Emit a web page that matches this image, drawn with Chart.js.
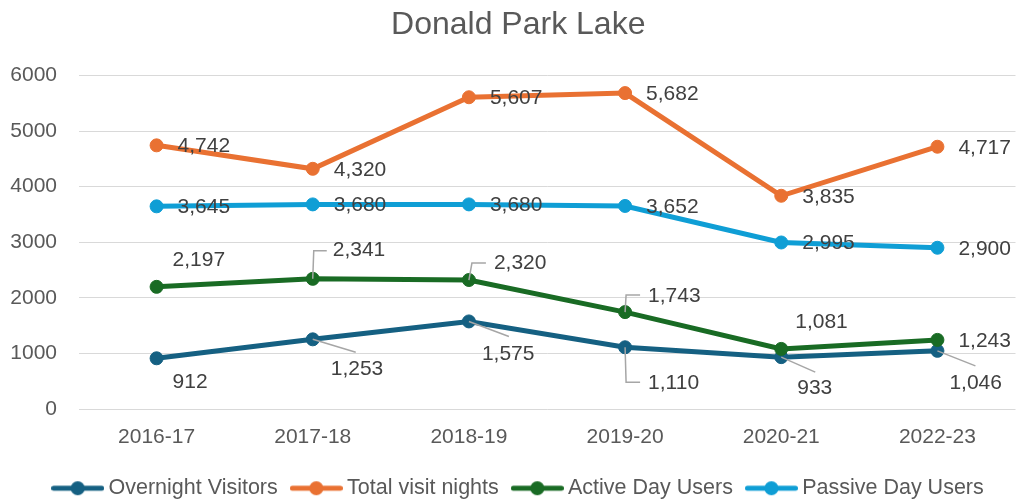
<!DOCTYPE html>
<html>
<head>
<meta charset="utf-8">
<title>Donald Park Lake</title>
<script src="https://cdn.jsdelivr.net/npm/chart.js@4.4.1/dist/chart.umd.min.js"></script>
<style>
    html, body { margin: 0; padding: 0; background: #fff; overflow: hidden; }
    #wrap { position: relative; width: 1023px; height: 509px; }
</style>
</head>
<body>
<div id="wrap"><canvas id="parkChart"></canvas></div>
<script>
/* Donald Park Lake - visitor counts by season */

const seasons = ['2016-17', '2017-18', '2018-19', '2019-20', '2020-21', '2022-23'];
const overnightVisitors = [912, 1253, 1575, 1110, 933, 1046];
const totalVisitNights = [4742, 4320, 5607, 5682, 3835, 4717];
const activeDayUsers = [2197, 2341, 2320, 1743, 1081, 1243];
const passiveDayUsers = [3645, 3680, 3680, 3652, 2995, 2900];
const yTicks = [0, 1000, 2000, 3000, 4000, 5000, 6000];

const FONT = "'Liberation Sans', Arial, sans-serif";
const TEXT_GREY = '#595959';
const LABEL_GREY = '#404040';

// Where each value label sits, relative to its point (px), plus optional leader line
const R = { dx: 21, dy: 1 };
const labelPlacement = [
    [
        { dx: 16, dy: 24 },
        { dx: 18, dy: 30, leader: [[43, 13]] },
        { dx: 13, dy: 33, leader: [[40, 15]] },
        { dx: 23, dy: 36, leader: [[1, 35], [15, 35]] },
        { dx: 16, dy: 31, leader: [[34, 15]] },
        { dx: 12, dy: 32, leader: [[38, 15]] }
    ],
    [R, R, R, R, R, R],
    [
        { dx: 16, dy: -27 },
        { dx: 20, dy: -29, leader: [[1, -28], [14, -28]] },
        { dx: 25, dy: -17, leader: [[3, -17], [17, -17]] },
        { dx: 23, dy: -16, leader: [[1, -17], [15, -17]] },
        { dx: 14, dy: -27 },
        R
    ],
    [R, R, R, R, R, R]
];

/**
 * Line + dot marker used in the legend
 */
function legendMarker(color) {
    const c = document.createElement('canvas');
    c.width = 53;
    c.height = 16;
    const g = c.getContext('2d');
    g.strokeStyle = color;
    g.lineWidth = 5;
    g.lineCap = 'round';
    g.beginPath();
    g.moveTo(2.5, 8);
    g.lineTo(50.5, 8);
    g.stroke();
    g.fillStyle = color;
    g.beginPath();
    g.arc(26.5, 8, 7, 0, Math.PI * 2);
    g.fill();
    return c;
}

function makeSeries(label, data, color, order) {
    return {
        label: label,
        data: data,
        borderColor: color,
        backgroundColor: color,
        pointBackgroundColor: color,
        pointBorderColor: color,
        borderWidth: 5,
        pointRadius: 6.5,
        pointBorderWidth: 1,
        tension: 0,
        order: order,
        marker: legendMarker(color)
    };
}

// Value labels with leader lines, drawn on top of all series
const pointLabels = {
    id: 'pointLabels',
    afterDatasetsDraw(chart) {
        const ctx = chart.ctx;
        ctx.save();
        chart.data.datasets.forEach((ds, di) => {
            const meta = chart.getDatasetMeta(di);
            meta.data.forEach((pt, i) => {
                const place = labelPlacement[di][i];
                if (place.leader) {
                    ctx.beginPath();
                    ctx.moveTo(pt.x, pt.y);
                    place.leader.forEach(([lx, ly]) => ctx.lineTo(pt.x + lx, pt.y + ly));
                    ctx.strokeStyle = '#A6A6A6';
                    ctx.lineWidth = 1.5;
                    ctx.stroke();
                }
                ctx.fillStyle = LABEL_GREY;
                ctx.font = `21px ${FONT}`;
                ctx.textAlign = 'left';
                ctx.textBaseline = 'middle';
                ctx.fillText(ds.data[i].toLocaleString('en-US'), pt.x + place.dx, pt.y + place.dy);
            });
        });
        ctx.restore();
    }
};

// Excel centres title and legend a little right of the canvas middle
const nudgeBoxes = {
    id: 'nudgeBoxes',
    afterLayout(chart) {
        if (chart.titleBlock) {
            chart.titleBlock.left += 8.5;
            chart.titleBlock.right += 8.5;
        }
        if (chart.legend) {
            chart.legend.left += 11;
            chart.legend.right += 11;
        }
    }
};

const ctx = document.getElementById('parkChart').getContext('2d');

new Chart(ctx, {
    type: 'line',
    data: {
        labels: seasons,
        datasets: [
            makeSeries('Overnight Visitors', overnightVisitors, '#156082', 4),
            makeSeries('Total visit nights', totalVisitNights, '#E97132', 3),
            makeSeries('Active Day Users', activeDayUsers, '#196B24', 2),
            makeSeries('Passive Day Users', passiveDayUsers, '#0F9ED5', 1)
        ]
    },
    options: {
        responsive: true,
        maintainAspectRatio: false,
        animation: false,
        layout: { padding: { left: 0, right: 3.5, top: 0, bottom: 0 } },
        plugins: {
            tooltip: { enabled: false },
            title: {
                display: true,
                text: 'Donald Park Lake',
                color: TEXT_GREY,
                font: { family: FONT, size: 32, weight: 'normal', lineHeight: 1.2 },
                padding: { top: 6, bottom: 31 }
            },
            legend: {
                position: 'bottom',
                labels: {
                    usePointStyle: true,
                    pointStyleWidth: 40,
                    padding: 18.5,
                    color: TEXT_GREY,
                    font: { family: FONT, size: 21.5 },
                    sort: (a, b) => a.datasetIndex - b.datasetIndex,
                    generateLabels(chart) {
                        const items = Chart.defaults.plugins.legend.labels.generateLabels(chart);
                        return items.map(item => {
                            item.pointStyle = chart.data.datasets[item.datasetIndex].marker;
                            return item;
                        });
                    }
                }
            }
        },
        scales: {
            x: {
                offset: true,
                grid: { display: false, drawTicks: false },
                border: { display: false },
                ticks: {
                    color: TEXT_GREY,
                    font: { family: FONT, size: 21 },
                    padding: 16,
                    maxRotation: 0
                },
                afterFit(scale) { scale.height = 50; }
            },
            y: {
                min: 0,
                max: 6000,
                grid: { color: '#D9D9D9', lineWidth: 1, drawTicks: false },
                border: { display: false },
                afterBuildTicks(scale) {
                    scale.ticks = yTicks.map(v => ({ value: v }));
                },
                ticks: {
                    color: TEXT_GREY,
                    font: { family: FONT, size: 21 },
                    padding: 21.5,
                    callback: v => String(v)
                },
                afterFit(scale) { scale.width = 78.5; }
            }
        }
    },
    plugins: [pointLabels, nudgeBoxes]
});
</script>
</body>
</html>
